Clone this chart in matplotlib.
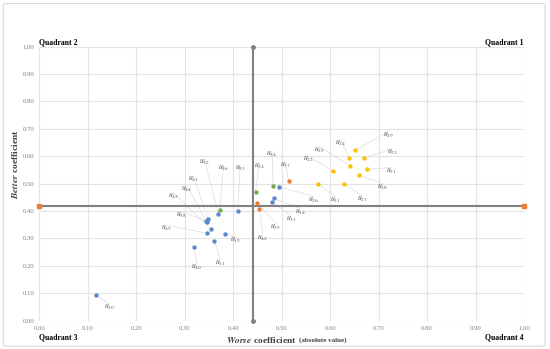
import matplotlib
matplotlib.use("Agg")
import matplotlib.pyplot as plt
from matplotlib.patches import FancyBboxPatch
import numpy as np

# ---------------- data ----------------
worse_blue = [0.116, 0.319, 0.361, 0.382, 0.345, 0.354, 0.345, 0.348, 0.369, 0.409, 0.495, 0.484, 0.479, 0.343]
better_blue = [0.094, 0.269, 0.292, 0.318, 0.319, 0.334, 0.360, 0.370, 0.388, 0.401, 0.489, 0.446, 0.435, 0.365]
labels_blue = ["10", "40", "11", "15", "45", "43", "44", "41", "32", "53", "26", "14", "33", "38"]

worse_green = [0.372, 0.446, 0.482]
better_green = [0.403, 0.470, 0.493]
labels_green = ["36", "34", "34"]

worse_orange = [0.514, 0.448, 0.453]
better_orange = [0.511, 0.431, 0.409]
labels_orange = ["37", "35", "42"]

worse_yellow = [0.652, 0.639, 0.669, 0.641, 0.677, 0.606, 0.659, 0.574, 0.628]
better_yellow = [0.623, 0.595, 0.594, 0.566, 0.553, 0.547, 0.532, 0.500, 0.500]
labels_yellow = ["29", "24", "23", "25", "21", "22", "28", "31", "27"]

mean_worse = 0.44
mean_better = 0.42

ticks = [0.0, 0.1, 0.2, 0.3, 0.4, 0.5, 0.6, 0.7, 0.8, 0.9, 1.0]

# label text positions (layout)
lab_pos_blue = [(0.144, 0.049), (0.325, 0.197), (0.373, 0.212), (0.404, 0.295), (0.263, 0.337),
                (0.276, 0.455), (0.304, 0.481), (0.318, 0.516), (0.340, 0.580), (0.414, 0.556),
                (0.566, 0.441), (0.538, 0.398), (0.519, 0.371), (0.294, 0.386)]
lab_pos_green = [(0.380, 0.556), (0.454, 0.565), (0.480, 0.607)]
lab_pos_orange = [(0.507, 0.568), (0.488, 0.343), (0.461, 0.304)]
lab_pos_yellow = [(0.720, 0.678), (0.621, 0.650), (0.728, 0.615), (0.578, 0.623), (0.726, 0.547),
                  (0.555, 0.589), (0.707, 0.489), (0.611, 0.441), (0.666, 0.444)]

plt.rcParams['mathtext.fontset'] = 'stix'
plt.rcParams['font.family'] = ['Liberation Serif', 'DejaVu Serif']

fig = plt.figure(figsize=(5.5, 3.49), dpi=100)
fig.patches.append(FancyBboxPatch((0.006, 0.008), 0.985, 0.982, boxstyle="round,pad=0,rounding_size=0.005",
                                  transform=fig.transFigure, fill=False, edgecolor="#d9d9d9", linewidth=0.8))
ax = fig.add_axes([0.0718, 0.0811, 0.8809, 0.7851])
ax.set_xlim(0, 1)
ax.set_ylim(0, 1)
ax.set_xticks(ticks)
ax.set_yticks(ticks)
ax.set_xticklabels([f"{t:.2f}" for t in ticks])
ax.set_yticklabels([f"{t:.2f}" for t in ticks])
ax.tick_params(length=0, labelsize=4.8, labelcolor="#7f7f7f", pad=3.5)
ax.grid(True, color="#e3e3e3", linewidth=0.8)
ax.set_axisbelow(True)
for s in ax.spines.values():
    s.set_visible(False)

# mean lines
ax.plot([0, 1], [mean_better, mean_better], color="#808080", linewidth=1.5, zorder=2)
ax.plot([0, 1], [mean_better, mean_better], linestyle="none", marker="s", markersize=3,
        color="#ED7D31", zorder=5, clip_on=False)
ax.plot([mean_worse, mean_worse], [0, 1], color="#808080", linewidth=1.5, zorder=2,
        marker="o", markersize=2.5, clip_on=False)

groups = [
    (worse_blue, better_blue, labels_blue, lab_pos_blue, "#5B87D0"),
    (worse_green, better_green, labels_green, lab_pos_green, "#70AD47"),
    (worse_orange, better_orange, labels_orange, lab_pos_orange, "#ED7D31"),
    (worse_yellow, better_yellow, labels_yellow, lab_pos_yellow, "#FFC000"),
]
for xs, ys, labs, lpos, col in groups:
    for x, y, l, (lx, ly) in zip(xs, ys, labs, lpos):
        ax.plot([x, lx], [y, ly + 0.012], color="#dcdcdc", linewidth=0.5, zorder=1)
        ax.text(lx, ly, r"$u_{%s}$" % l, fontsize=5.6, color="#595959", ha="center", va="center", zorder=3)
    ax.scatter(xs, ys, s=10, color=col, zorder=4, linewidths=0)

# quadrant labels
qkw = dict(fontsize=5.6, fontweight="bold", color="black", transform=fig.transFigure)
fig.text(0.0718, 0.879, "Quadrant 2", ha="left", va="center", **qkw)
fig.text(0.9527, 0.879, "Quadrant 1", ha="right", va="center", **qkw)
fig.text(0.0718, 0.034, "Quadrant 3", ha="left", va="center", **qkw)
fig.text(0.9527, 0.034, "Quadrant 4", ha="right", va="center", **qkw)

# axis titles
fig.text(0.539, 0.026, r"$\mathbfit{Worse}$ coefficient", fontsize=6.8, fontweight="bold",
         ha="right", va="center", color="#404040")
fig.text(0.543, 0.026, "(absolute value)", fontsize=5, fontweight="bold",
         ha="left", va="center", color="#404040")
fig.text(0.027, 0.53, r"$\mathbfit{Better}$ coefficient", fontsize=6.8, fontweight="bold",
         ha="center", va="center", rotation=90, color="#404040")

fig.savefig("out.png", dpi=100)
